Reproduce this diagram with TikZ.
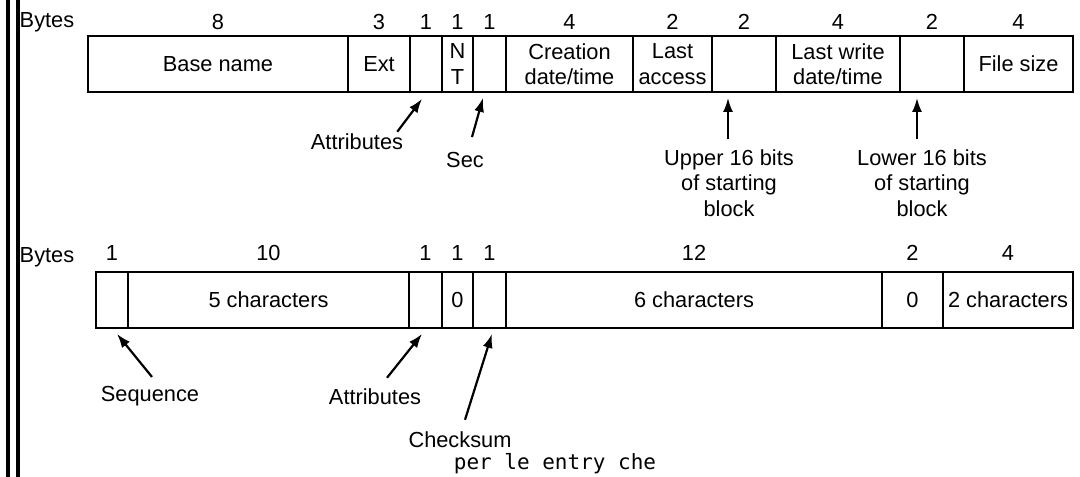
\documentclass[tikz,border=0pt]{standalone}
\usepackage{fontspec}
\setmainfont{Liberation Sans}
\newfontfamily\monofont{DejaVu Sans Mono}
\usetikzlibrary{arrows.meta}

\tikzset{
  field/.style={draw,line width=1.8pt,minimum height=56pt,inner sep=0pt,align=center},
  note/.style={align=center,inner sep=2pt},
  every label/.style={inner sep=1pt},
  ptr/.style={line width=2.2pt,-{Latex[length=14pt,width=10pt]}},
}

\begin{document}
\begin{tikzpicture}[x=1pt,y=-1pt,font=\fontsize{21.8}{25.5}\selectfont]
  \useasboundingbox (0,0) rectangle (1080,477);
  \fill (6,0) rectangle (9.5,477);
  \fill (15.5,0) rectangle (19.5,477);

  \node (bytes1) at (47,22) {Bytes};
  \begin{scope}[label distance=4pt]
   \node[field,minimum width=260pt,label=above:8] (base) at (218,64) {Base name};
   \node[field,minimum width=62pt,label=above:3] (ext) at (379,64) {Ext};
   \node[field,minimum width=32pt,label=above:1] (attr) at (426,64) {};
   \node[field,minimum width=31pt,label=above:1] (nt) at (457.5,64) {N\\T};
   \node[field,minimum width=33pt,label=above:1] (sec) at (489.5,64) {};
   \node[field,minimum width=127pt,label=above:4] (creat) at (569.5,64) {Creation\\date/time};
   \node[field,minimum width=79pt,label=above:2] (lacc) at (672.5,64) {Last\\access};
   \node[field,minimum width=64pt,label=above:2] (upper) at (744,64) {};
   \node[field,minimum width=124pt,label=above:4] (lwrite) at (838,64) {Last write\\date/time};
   \node[field,minimum width=64pt,label=above:2] (lower) at (932,64) {};
   \node[field,minimum width=109pt,label=above:4] (size) at (1018.5,64) {File size};
  \end{scope}

  \node[note] (attrl) at (357,142) {Attributes};
  \node[note] (secl) at (465,160) {Sec};
  \node[note] (upl) at (729,183) {Upper 16 bits\\of starting\\block};
  \node[note] (lwl) at (922,183) {Lower 16 bits\\of starting\\block};
  \draw[ptr] ([xshift=-8pt]attrl.north east) -- ([xshift=-4pt,yshift=-6pt]attr.south);
  \draw[ptr] ([xshift=7pt,yshift=13pt]secl.north) -- ([xshift=-6.5pt,yshift=-5pt]sec.south);
  \draw[ptr] ([xshift=-1pt,yshift=8pt]upl.north) -- ([xshift=-16pt,yshift=-5pt]upper.south);
  \draw[ptr] ([xshift=-5pt,yshift=8pt]lwl.north) -- ([xshift=-15pt,yshift=-5pt]lower.south);

  \node (bytes2) at (47,257) {Bytes};
  \begin{scope}[label distance=9pt]
   \node[field,minimum width=32pt,label=above:1] (seq) at (112,300) {};
   \node[field,minimum width=281pt,label=above:10] (five) at (268.5,300) {5 characters};
   \node[field,minimum width=33pt,label=above:1] (attrb) at (425.5,300) {};
   \node[field,minimum width=31pt,label=above:1] (zero) at (457.5,300) {0};
   \node[field,minimum width=33pt,label=above:1] (chk) at (489.5,300) {};
   \node[field,minimum width=376pt,label=above:12] (six) at (694,300) {6 characters};
   \node[field,minimum width=61pt,label=above:2] (zerob) at (912.5,300) {0};
   \node[field,minimum width=130pt,label=above:4] (two) at (1008,300) {2 characters};
  \end{scope}

  \node[note] (seql) at (150,396) {Sequence};
  \node[note] (attrbl) at (375,397) {Attributes};
  \node[note] (chkl) at (460,440) {Checksum};
  \draw[ptr] ([xshift=2pt,yshift=7pt]seql.north) -- ([xshift=5pt,yshift=-5pt]seq.south);
  \draw[ptr] ([xshift=12pt,yshift=9pt]attrbl.north) -- ([xshift=-3.5pt,yshift=-5pt]attrb.south);
  \draw[ptr] ([xshift=5pt,yshift=10pt]chkl.north) -- ([xshift=2.5pt,yshift=-5pt]chk.south);

  \node[font=\monofont\fontsize{21}{25}\selectfont] (tail) at (555,464) {per le entry che};
\end{tikzpicture}
\end{document}
